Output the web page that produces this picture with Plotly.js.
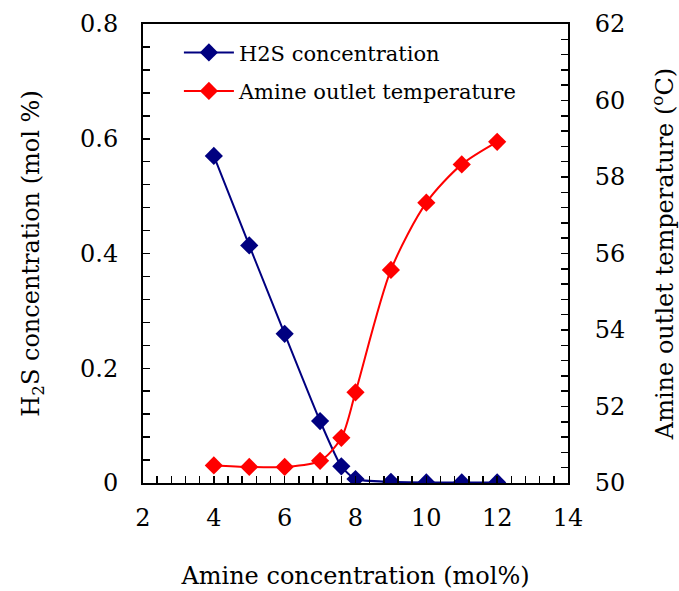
<!DOCTYPE html>
<html>
<head>
<meta charset="utf-8">
<script src="https://cdn.plot.ly/plotly-3.0.1.min.js"></script>
<style>html,body{margin:0;padding:0;background:#fff}#chart{width:679px;height:591px}</style>
</head>
<body>
<div id="chart"></div>
<script>
// Data
const amineConc = [4, 5, 6, 7, 7.6, 8, 9, 10, 11, 12];
const h2sConc = [0.570, 0.414, 0.260, 0.108, 0.029, 0.007, 0.002, 0.001, 0.001, 0.001];
const outletTemp = [50.46, 50.42, 50.42, 50.58, 51.18, 52.37, 55.57, 57.33, 58.33, 58.92];
const seriesNames = ["H2S concentration", "Amine outlet temperature"];
const xTitle = "Amine concentration (mol%)";
const yTitle = "H<sub>2</sub>S concentration (mol %)";
const y2Title = "Amine outlet temperature (<sup>o</sup>C)";

const FONT = "DejaVu Serif";
const FS = 24;
const blue = "#000080";
const red = "#ff0000";

const traces = [
  {
    x: amineConc, y: h2sConc, name: seriesNames[0], type: "scatter", mode: "lines+markers",
    line: {color: blue, width: 2, shape: "spline", smoothing: 0.6},
    marker: {symbol: "diamond", size: 14, color: blue},
    xaxis: "x", yaxis: "y", legend: "legend"
  },
  {
    x: amineConc, y: outletTemp, name: seriesNames[1], type: "scatter", mode: "lines+markers",
    line: {color: red, width: 2, shape: "spline", smoothing: 0.8},
    marker: {symbol: "diamond", size: 14, color: red},
    xaxis: "x", yaxis: "y2", legend: "legend2"
  }
];

function axisBase() {
  return {
    showline: true, linecolor: "#000", linewidth: 2,
    ticks: "inside", ticklen: 7, tickwidth: 1.5, tickcolor: "#000",
    showgrid: false, zeroline: false,
    tickfont: {family: FONT, size: FS, color: "#000"},
    ticklabelstandoff: 18
  };
}

const layout = {
  width: 679, height: 591,
  margin: {l: 143, r: 111, t: 24, b: 108},
  paper_bgcolor: "#fff", plot_bgcolor: "#fff",
  font: {family: FONT, size: FS, color: "#000"},
  showlegend: true,
  xaxis: Object.assign(axisBase(), {
    range: [2, 14], dtick: 2, tick0: 2, mirror: true, ticklabelstandoff: 12,
    minor: {dtick: 0.4, tick0: 2, ticks: "inside", ticklen: 7, tickwidth: 1.5, tickcolor: "#000"},
    title: {text: xTitle, font: {family: FONT, size: FS, color: "#000"}, standoff: 36}
  }),
  yaxis: Object.assign(axisBase(), {
    range: [0, 0.8], dtick: 0.2, tick0: 0,
    minor: {dtick: 0.04, tick0: 0, ticks: "inside", ticklen: 7, tickwidth: 1.5, tickcolor: "#000"},
    title: {text: yTitle, font: {family: FONT, size: FS, color: "#000"}, standoff: 34}
  }),
  yaxis2: Object.assign(axisBase(), {
    range: [50, 62], dtick: 2, tick0: 50, overlaying: "y", side: "right", ticklabelstandoff: 20,
    minor: {dtick: 0.4, tick0: 50, ticks: "inside", ticklen: 7, tickwidth: 1.5, tickcolor: "#000"},
    title: {text: y2Title, font: {family: FONT, size: FS, color: "#000"}, standoff: 34}
  }),
  legend: {
    x: 0.0845, y: 0.982, xanchor: "left", yanchor: "top", itemwidth: 50,
    bgcolor: "rgba(0,0,0,0)", font: {family: FONT, size: 21, color: "#000"}
  },
  legend2: {
    x: 0.0845, y: 0.898, xanchor: "left", yanchor: "top", itemwidth: 50,
    bgcolor: "rgba(0,0,0,0)", font: {family: FONT, size: 21, color: "#000"}
  }
};

Plotly.newPlot("chart", traces, layout, {displayModeBar: false, staticPlot: true});
</script>
</body>
</html>
